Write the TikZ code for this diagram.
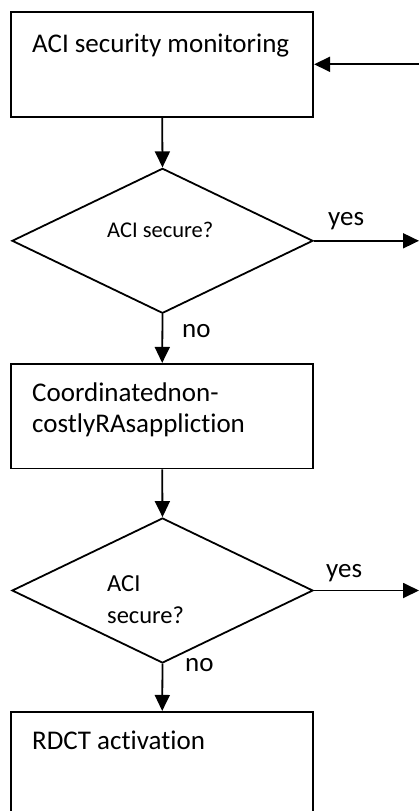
\documentclass[tikz,border=0pt]{standalone}
\usepackage{fontspec}
\setmainfont{Carlito}[Ligatures={NoCommon}]
\usetikzlibrary{arrows.meta,shapes.geometric}
\tikzset{
  box/.style={draw=black, line width=1.8pt, rectangle, minimum width=302pt, minimum height=104.7pt, inner sep=0pt},
  decision/.style={draw=black, line width=1.8pt, diamond, minimum width=301pt, minimum height=145pt, inner sep=0pt},
  flow/.style={line width=1.8pt, -{Triangle[length=16pt,width=15pt]}},
  big/.style={font=\fontsize{27pt}{31pt}\selectfont, inner sep=0pt, anchor=base west},
  mid/.style={font=\fontsize{24.5pt}{30pt}\selectfont, inner sep=0pt, anchor=base west},
  small/.style={font=\fontsize{22.5pt}{25pt}\selectfont, inner sep=0pt, anchor=base west}
}
\begin{document}
\begin{tikzpicture}[x=1pt,y=-1pt]
\useasboundingbox (0,0) rectangle (419,811);
% boxes and decisions
\node[box] (b1) at (162.2,64.3) {};
\node[decision] (d1) at (162.5,240.8) {};
\node[box] (b2) at (162.2,416.2) {};
\node[decision] (d2) at (162.5,590.5) {};
\node[box] (b3) at (162.2,764.2) {};
% texts
\node[big] (t1) at (32,52) {ACI security monitoring};
\node[small] (t3) at (107,237) {ACI secure?};
\node[big] (t2a) at (32,401) {Coordinatednon-};
\node[big] (t2b) at (32,432) {costlyRAsappliction};
\node[mid] (t4a) at (107,591) {ACI};
\node[mid] (t4b) at (107,623) {secure?};
\node[big] (t5) at (32,749) {RDCT activation};
\node[big] (y1) at (328,225) {yes};
\node[big] (y2) at (326,577) {yes};
\node[big] (n1) at (182,337) {no};
\node[big] (n2) at (185,671) {no};
% free ends
\coordinate (fb) at (419,64.3);
\coordinate (e1) at (419,240.8);
\coordinate (e2) at (419,590.5);
% connectors
\draw[flow] (fb) -- (b1.east);
\draw[flow] (b1.south) -- (d1.north);
\draw[flow] (d1.east) -- (e1);
\draw[flow] (d1.south) -- (b2.north);
\draw[flow] (b2.south) -- (d2.north);
\draw[flow] (d2.east) -- (e2);
\draw[flow] (d2.south) -- (b3.north);
\end{tikzpicture}
\end{document}
